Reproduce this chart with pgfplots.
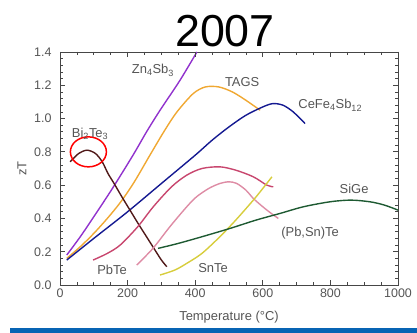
\documentclass[border=0pt]{standalone}
\usepackage{pgfplots}
\pgfplotsset{compat=1.18}
\usepackage{fontspec}
\setmainfont{Liberation Sans}
\definecolor{txt}{RGB}{85,85,85}
\definecolor{axc}{RGB}{70,70,70}
\definecolor{barblue}{RGB}{8,100,180}
\definecolor{cpurple}{RGB}{145,50,205}
\definecolor{corange}{RGB}{240,168,50}
\definecolor{cblue}{RGB}{20,25,145}
\definecolor{cbrown}{RGB}{80,25,25}
\definecolor{cred}{RGB}{200,70,110}
\definecolor{cpink}{RGB}{222,140,165}
\definecolor{cyellow}{RGB}{215,205,60}
\definecolor{cgreen}{RGB}{30,90,50}
\begin{document}
\begin{tikzpicture}
\useasboundingbox (0bp,0bp) rectangle (417bp,333bp);
\fill[barblue] (10bp,0bp) rectangle (417bp,4.5bp);
\node[anchor=base, font=\fontsize{45}{50}\selectfont] at (225bp,286bp) {2007};
\begin{axis}[
  at={(60bp,48bp)}, anchor=south west, scale only axis,
  width=338bp, height=233bp,
  xmin=0, xmax=1000, ymin=0, ymax=1.4,
  xtick={0,200,400,600,800,1000},
  ytick={0,0.2,0.4,0.6,0.8,1.0,1.2,1.4},
  minor x tick num=3, minor y tick num=4,
  xtick align=inside, ytick align=inside,
  xtick pos=both, ytick pos=both,
  major tick length=5bp, minor tick length=3bp,
  axis line style={axc, line width=0.9pt},
  xtick style={axc, line width=0.8pt},
  ytick style={axc, line width=0.8pt},
  /pgf/number format/assume math mode=true,
  yticklabel style={/pgf/number format/fixed, /pgf/number format/fixed zerofill, /pgf/number format/precision=1, xshift=-5bp},
  xticklabel style={/pgf/number format/fixed, /pgf/number format/precision=0, /pgf/number format/1000 sep={}},
  ticklabel style={font=\fontsize{12.5}{14}\selectfont, text=txt},
  xlabel={Temperature (°C)}, ylabel={zT},
  label style={font=\fontsize{13}{15}\selectfont, text=txt},
  xlabel style={at={(axis description cs:0.5,0)}, anchor=center, yshift=-32bp},
  ylabel style={at={(axis description cs:0,0.5)}, anchor=center, yshift=38bp},
  every axis plot/.append style={line width=1.4pt, smooth},
]
% Zn4Sb3
\addplot[cpurple] coordinates {(20,0.18)(60,0.29)(100,0.41)(155,0.58)(216,0.78)(256,0.92)(296,1.05)(355,1.23)(405,1.40)};
% TAGS
\addplot[corange] coordinates {(20,0.16)(60,0.23)(100,0.31)(140,0.40)(180,0.50)(220,0.62)(266,0.78)(310,0.93)(346,1.04)(394,1.15)(430,1.19)(470,1.19)(510,1.16)(550,1.11)(592,1.05)};
% CeFe4Sb12
\addplot[cblue] coordinates {(20,0.15)(100,0.28)(200,0.44)(300,0.61)(400,0.78)(450,0.87)(500,0.95)(550,1.02)(600,1.07)(630,1.09)(660,1.08)(690,1.04)(725,0.97)};
% Bi2Te3
\addplot[cbrown] coordinates {(30,0.74)(55,0.79)(80,0.81)(105,0.79)(125,0.74)(142,0.67)(160,0.61)(183,0.53)(207,0.45)(231,0.37)(256,0.29)(281,0.21)(300,0.15)(316,0.11)};
% PbTe
\addplot[cred] coordinates {(98,0.15)(140,0.19)(178,0.24)(230,0.35)(276,0.47)(330,0.59)(375,0.66)(420,0.70)(473,0.71)(520,0.69)(572,0.65)(612,0.60)(631,0.59)};
% (Pb,Sn)Te
\addplot[cpink] coordinates {(227,0.12)(275,0.22)(325,0.35)(375,0.47)(404,0.53)(440,0.58)(473,0.61)(500,0.62)(523,0.61)(550,0.57)(572,0.52)(600,0.47)(625,0.43)(646,0.40)};
% SnTe
\addplot[cyellow] coordinates {(296,0.06)(340,0.09)(375,0.13)(420,0.19)(473,0.29)(520,0.39)(572,0.51)(600,0.58)(627,0.65)};
% SiGe
\addplot[cgreen] coordinates {(290,0.22)(350,0.25)(420,0.29)(503,0.34)(580,0.39)(651,0.43)(720,0.47)(799,0.50)(860,0.51)(917,0.50)(960,0.48)(1000,0.45)};
% highlight circle (annotation)
\draw[red, line width=1.5pt] (axis cs:84,0.80) ellipse [x radius=18bp, y radius=15bp];
\begin{scope}[every node/.style={font=\fontsize{13}{15}\selectfont, text=txt}]
\node at (axis cs:275,1.29) {Zn\textsubscript{4}Sb\textsubscript{3}};
\node at (axis cs:539,1.22) {TAGS};
\node[anchor=west] at (axis cs:695,1.08) {CeFe\textsubscript{4}Sb\textsubscript{12}};
\node at (axis cs:89,0.91) {Bi\textsubscript{2}Te\textsubscript{3}};
\node at (axis cs:154,0.09) {PbTe};
\node at (axis cs:453,0.10) {SnTe};
\node at (axis cs:870,0.58) {SiGe};
\node at (axis cs:740,0.31) {(Pb,Sn)Te};
\end{scope}
\end{axis}
% tick marks on all four sides (frame decoration)
\foreach \i in {0,...,20} {
  \pgfmathsetmacro\len{ifthenelse(mod(\i,4)==0,5,3)}
  \draw[axc, line width=0.8pt] ({(60+\i*16.9)*1bp},48bp) -- ++(0,\len bp);
  \draw[axc, line width=0.8pt] ({(60+\i*16.9)*1bp},281bp) -- ++(0,-\len bp);
}
\foreach \j in {0,...,35} {
  \pgfmathsetmacro\len{ifthenelse(mod(\j,5)==0,5,3)}
  \draw[axc, line width=0.8pt] (60bp,{(48+\j*6.657)*1bp}) -- ++(\len bp,0);
  \draw[axc, line width=0.8pt] (398bp,{(48+\j*6.657)*1bp}) -- ++(-\len bp,0);
}
\end{tikzpicture}
\end{document}
